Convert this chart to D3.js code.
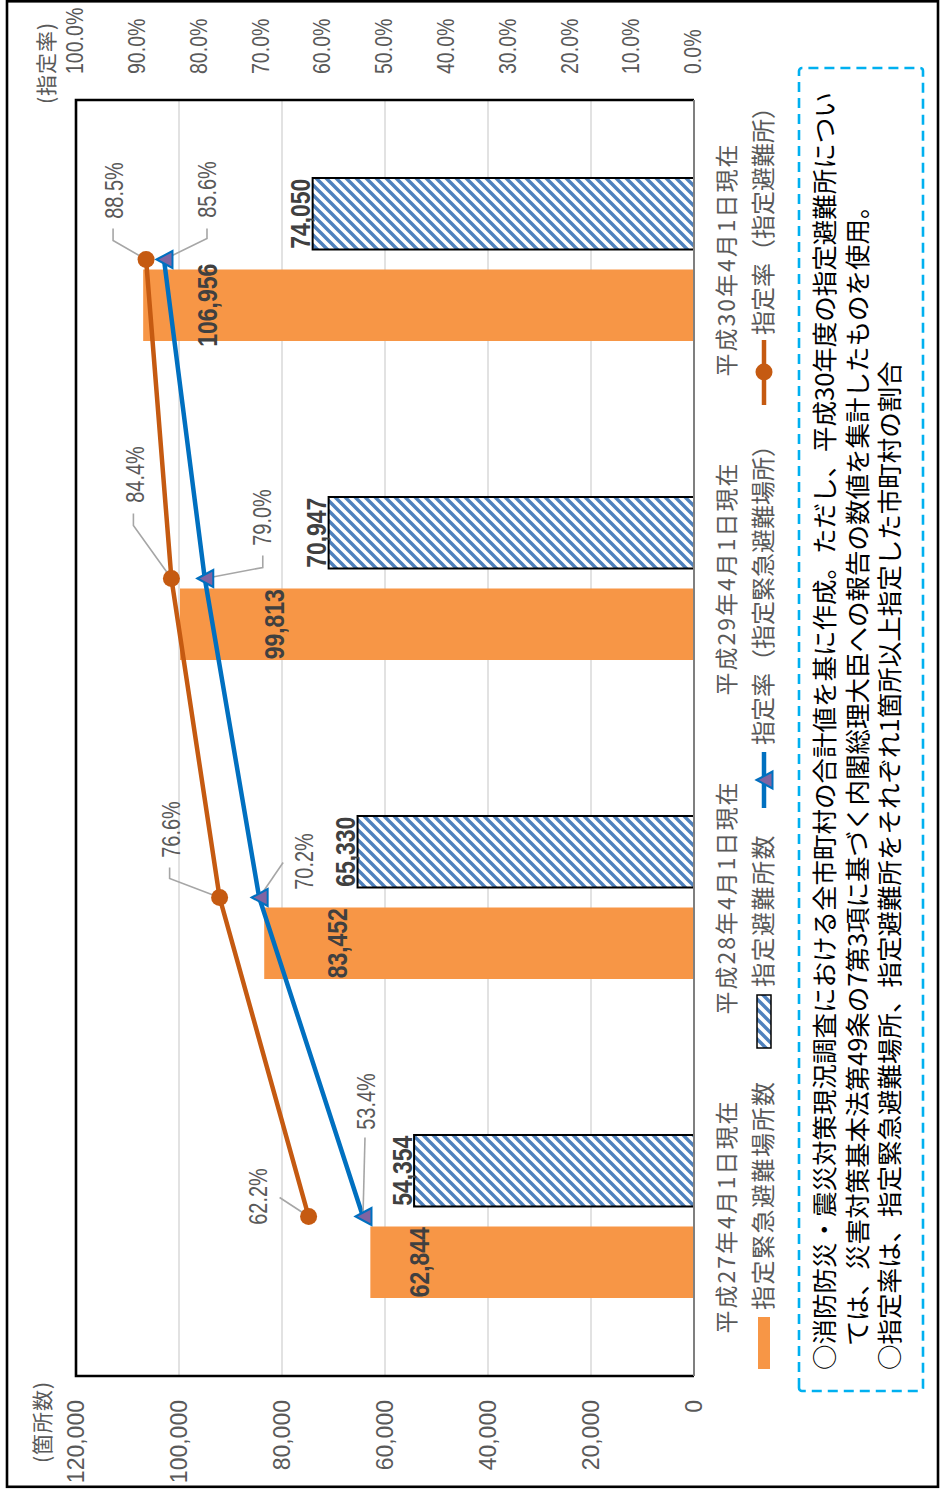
<!DOCTYPE html>
<html>
<head>
<meta charset="utf-8">
<script src="https://cdn.jsdelivr.net/npm/d3@7"></script>
<style>
  html, body { margin: 0; padding: 0; background: #fff; }
  svg { display: block; }
  text { font-family: "Liberation Sans", Arial, sans-serif; }
  .jp { font-family: "Noto Sans CJK JP", "Noto Sans", sans-serif; }
</style>
</head>
<body>
<svg id="chart" width="940" height="1492"></svg>
<script>
// -----------------------------------------------------------------------------
// Data
// -----------------------------------------------------------------------------
const categories = ['平成27年4月1日現在', '平成28年4月1日現在', '平成29年4月1日現在', '平成30年4月1日現在'];
const emergencyCounts = [62844, 83452, 99813, 106956];   // 指定緊急避難場所数 (orange bars)
const shelterCounts   = [54354, 65330, 70947, 74050];    // 指定避難所数 (hatched bars)
const rateBrown = [0.622, 0.766, 0.844, 0.885];          // circle line
const rateBlue  = [0.534, 0.702, 0.790, 0.856];          // triangle line
const countTicks = [0, 20000, 40000, 60000, 80000, 100000, 120000];
const rateTicks  = [0, 0.1, 0.2, 0.3, 0.4, 0.5, 0.6, 0.7, 0.8, 0.9, 1.0];
const legendLabels = ['指定緊急避難場所数', '指定避難所数', '指定率（指定緊急避難場所）', '指定率（指定避難所）'];
const noteLines = [
  '○消防防災・震災対策現況調査における全市町村の合計値を基に作成。ただし、平成30年度の指定避難所につい',
  'ては、災害対策基本法第49条の7第3項に基づく内閣総理大臣への報告の数値を集計したものを使用。',
  '○指定率は、指定緊急避難場所、指定避難所をそれぞれ1箇所以上指定した市町村の割合'
];

// Layout-only tweaks: manual label placement as in the source chart
const orangeLabelOffset = [49, 73, 94, 64];        // px below bar end
// [label du, dv], leader waypoints relative to the point (unrotated frame)
const brownLabelPos = [
  { label: [20, -51],   leader: [[19, -29]] },
  { label: [68, -49],   leader: [[19, -50], [30, -50]] },
  { label: [104, -36],  leader: [[53, -38], [65, -38]] },
  { label: [69, -32],   leader: [[19, -33], [31, -33]] }
];
const blueLabelPos = [
  { label: [115, 3],    leader: [[79, 2]] },
  { label: [36, 45],    leader: [[35, 24]] },
  { label: [61, 57],    leader: [[11, 58], [23, 58]] },
  { label: [70, 43],    leader: [[21, 43], [31, 43]] }
];

// -----------------------------------------------------------------------------
// Setup. The whole chart is drawn in an unrotated 1492 x 940 frame and turned
// 90deg counter-clockwise to fit the portrait page.
// -----------------------------------------------------------------------------
const W = 1492;
const svg = d3.select('#chart');

const C = {
  orange: '#F79646', brown: '#C55A11', blue: '#0070C0', purple: '#8064A2',
  hatch: '#4F81BD', grid: '#D9D9D9', text: '#595959', dark: '#404040',
  leader: '#A6A6A6', note: '#00B0F0'
};

const defs = svg.append('defs');
const pat = defs.append('pattern')
  .attr('id', 'hatch')
  .attr('patternUnits', 'userSpaceOnUse')
  .attr('width', 10).attr('height', 10);
pat.append('rect').attr('width', 10).attr('height', 10).attr('fill', '#fff');
pat.append('path')
  .attr('d', 'M-3,3 L3,-3 M0,10 L10,0 M7,13 L13,7')
  .attr('stroke', C.hatch).attr('stroke-width', 3.4);

// outer frame (page coords)
svg.append('rect')
  .attr('x', 7).attr('y', 1.3).attr('width', 931).attr('height', 1485.5)
  .attr('fill', 'none').attr('stroke', '#000').attr('stroke-width', 2.6);

const root = svg.append('g').attr('transform', `translate(0,${W}) rotate(-90)`);

const plot = { left: 116, right: 1392, top: 76, bottom: 694 };

const x = d3.scaleBand()
  .domain(categories)
  .range([plot.left, plot.right])
  .paddingInner(0.489)
  .paddingOuter(0.2445);
const xs = d3.scaleBand().domain(['e', 's']).range([0, x.bandwidth()]).paddingInner(0.2186);
const y = d3.scaleLinear().domain([0, 120000]).range([plot.bottom, plot.top]);
const yr = d3.scaleLinear().domain([0, 1]).range([plot.bottom - 1, plot.top - 1]);
const cx = i => x(categories[i]) + x.bandwidth() / 2;

// text helper: optional horizontal squeeze to mimic the narrow chart font
function label(parent, u, v, str, o = {}) {
  const t = parent.append('text')
    .attr('transform', `translate(${u},${v}) scale(${o.sx || 1},1)`)
    .attr('text-anchor', o.anchor || 'middle')
    .attr('dy', o.dy || '0.36em')
    .attr('font-size', o.size || 22)
    .attr('fill', o.fill || C.text)
    .text(str);
  if (o.weight) t.attr('font-weight', o.weight);
  if (o.jp) t.attr('class', 'jp');
  if (o.ls) t.attr('letter-spacing', o.ls);
  return t;
}

// -----------------------------------------------------------------------------
// Grid, bars, frame
// -----------------------------------------------------------------------------
root.append('g').selectAll('line')
  .data(countTicks.filter(t => t > 0 && t < 120000))
  .join('line')
  .attr('x1', plot.left).attr('x2', plot.right)
  .attr('y1', d => y(d)).attr('y2', d => y(d))
  .attr('stroke', C.grid).attr('stroke-width', 1.5);

const gBars = root.append('g');
gBars.selectAll('rect.em')
  .data(emergencyCounts)
  .join('rect')
  .attr('class', 'em')
  .attr('x', (d, i) => x(categories[i]) + xs('e'))
  .attr('y', d => y(d))
  .attr('width', xs.bandwidth())
  .attr('height', d => y(0) - y(d))
  .attr('fill', C.orange);

gBars.selectAll('rect.sh')
  .data(shelterCounts)
  .join('rect')
  .attr('class', 'sh')
  .attr('x', (d, i) => x(categories[i]) + xs('s'))
  .attr('y', d => y(d))
  .attr('width', xs.bandwidth())
  .attr('height', d => y(0) - y(d))
  .attr('fill', 'url(#hatch)')
  .attr('stroke', '#000').attr('stroke-width', 2);

// plot frame: black on three sides, grey baseline
root.append('path')
  .attr('d', `M${plot.left},${plot.bottom} V${plot.top} H${plot.right} V${plot.bottom}`)
  .attr('fill', 'none').attr('stroke', '#000').attr('stroke-width', 2.6);
root.append('line')
  .attr('x1', plot.left).attr('x2', plot.right)
  .attr('y1', plot.bottom).attr('y2', plot.bottom)
  .attr('stroke', '#7F7F7F').attr('stroke-width', 2);

// -----------------------------------------------------------------------------
// Lines + markers
// -----------------------------------------------------------------------------
const line = d3.line().x((d, i) => cx(i)).y(d => yr(d));
root.append('path').datum(rateBrown).attr('d', line)
  .attr('fill', 'none').attr('stroke', C.brown).attr('stroke-width', 4.5);
root.append('path').datum(rateBlue).attr('d', line)
  .attr('fill', 'none').attr('stroke', C.blue).attr('stroke-width', 4.5);

const triPath = 'M0,-7.5 L8.5,8.5 L-8.5,8.5 Z';

// leader lines (under the markers)
const gLead = root.append('g');
function leaders(values, pos) {
  values.forEach((v, i) => {
    const p = [cx(i), yr(v)];
    const pts = [[0, 0]].concat(pos[i].leader).map(o => [p[0] + o[0], p[1] + o[1]]);
    gLead.append('path').attr('d', d3.line()(pts))
      .attr('fill', 'none').attr('stroke', C.leader).attr('stroke-width', 1.6);
  });
}
leaders(rateBrown, brownLabelPos);
leaders(rateBlue, blueLabelPos);

root.append('g').selectAll('circle')
  .data(rateBrown)
  .join('circle')
  .attr('cx', (d, i) => cx(i)).attr('cy', d => yr(d)).attr('r', 8.5)
  .attr('fill', C.brown);

root.append('g').selectAll('path')
  .data(rateBlue)
  .join('path')
  .attr('transform', (d, i) => `translate(${cx(i)},${yr(d)})`)
  .attr('d', triPath)
  .attr('fill', C.purple).attr('stroke', C.blue).attr('stroke-width', 2);

// -----------------------------------------------------------------------------
// Data labels
// -----------------------------------------------------------------------------
const fmtN = d3.format(',');
const fmtP = d3.format('.1%');
const gLab = root.append('g');

emergencyCounts.forEach((v, i) => {
  label(gLab, x(categories[i]) + xs('e') + xs.bandwidth() / 2, y(v) + orangeLabelOffset[i], fmtN(v),
    { size: 28, sx: 0.82, weight: 'bold', fill: C.dark });
});
shelterCounts.forEach((v, i) => {
  label(gLab, x(categories[i]) + xs('s') + xs.bandwidth() / 2, y(v) - 12.5, fmtN(v),
    { size: 28, sx: 0.82, weight: 'bold', fill: C.dark });
});
function pctLabels(values, pos) {
  values.forEach((v, i) => {
    label(gLab, cx(i) + pos[i].label[0], yr(v) + pos[i].label[1], fmtP(v),
      { size: 25, sx: 0.8 });
  });
}
pctLabels(rateBrown, brownLabelPos);
pctLabels(rateBlue, blueLabelPos);

// -----------------------------------------------------------------------------
// Axes
// -----------------------------------------------------------------------------
const gAx = root.append('g');
countTicks.forEach(t => label(gAx, 92, y(t), fmtN(t), { size: 23, anchor: 'end' }));
rateTicks.forEach(t => label(gAx, 1418, yr(t), fmtP(t), { size: 23, sx: 0.85, anchor: 'start' }));
label(gAx, 70, 43, '(箇所数)', { size: 21, jp: true, ls: 1, dy: '0.34em' });
label(gAx, 1429, 47, '(指定率)', { size: 21, jp: true, ls: 1, dy: '0.34em' });

categories.forEach(c => label(gAx, x(c) + x.bandwidth() / 2, 727, c, { size: 23, jp: true, ls: 2, dy: '0.34em' }));

// -----------------------------------------------------------------------------
// Legend
// -----------------------------------------------------------------------------
const gLeg = root.append('g');
const legV = 764;
gLeg.append('rect').attr('x', 123).attr('y', legV - 6).attr('width', 52).attr('height', 12)
  .attr('fill', C.orange);
label(gLeg, 182, legV, legendLabels[0], { size: 24, jp: true, ls: 1.5, anchor: 'start', dy: '0.34em' });

gLeg.append('rect').attr('x', 444).attr('y', legV - 7).attr('width', 53).attr('height', 14)
  .attr('fill', 'url(#hatch)').attr('stroke', '#000').attr('stroke-width', 1.5);
label(gLeg, 505, legV, legendLabels[1], { size: 24, jp: true, ls: 1.5, anchor: 'start', dy: '0.34em' });

gLeg.append('line').attr('x1', 684).attr('x2', 740).attr('y1', legV).attr('y2', legV)
  .attr('stroke', C.blue).attr('stroke-width', 4.5);
gLeg.append('path').attr('transform', `translate(712,${legV})`).attr('d', triPath)
  .attr('fill', C.purple).attr('stroke', C.blue).attr('stroke-width', 2);
label(gLeg, 747, legV, legendLabels[2], { size: 24, jp: true, anchor: 'start', dy: '0.34em' });

gLeg.append('line').attr('x1', 1087).attr('x2', 1152).attr('y1', legV).attr('y2', legV)
  .attr('stroke', C.brown).attr('stroke-width', 4.5);
gLeg.append('circle').attr('cx', 1120).attr('cy', legV).attr('r', 8.5).attr('fill', C.brown);
label(gLeg, 1157, legV, legendLabels[3], { size: 24, jp: true, anchor: 'start', dy: '0.34em' });

// -----------------------------------------------------------------------------
// Note box
// -----------------------------------------------------------------------------
const gNote = root.append('g');
gNote.append('rect')
  .attr('x', 101).attr('y', 799).attr('width', 1323).attr('height', 124).attr('rx', 3)
  .attr('fill', 'none').attr('stroke', C.note).attr('stroke-width', 2.6)
  .attr('stroke-dasharray', '10 6');
const noteU = [122, 146, 122];
const noteV = [825, 858, 890];
noteLines.forEach((s, i) => label(gNote, noteU[i], noteV[i], s,
  { size: 25.5, jp: true, anchor: 'start', fill: '#000', dy: '0.36em' }));
</script>
</body>
</html>
